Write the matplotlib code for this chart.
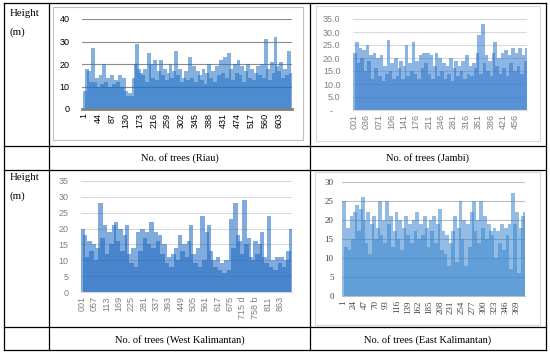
import numpy as np
import matplotlib.pyplot as plt
from matplotlib.lines import Line2D
from matplotlib.patches import Rectangle

# tree heights (m), one value read every few trees along each chart
riau_step = 6
riau_h = [8, 18, 17, 12, 27, 12, 14,
          10, 15, 11, 20, 12, 14, 10, 15, 11, 13,
          12, 15, 10, 14, 8,
          6, 7, 6,
          14, 20, 29, 18, 16,
          15, 18, 12, 25, 20, 14, 22, 13, 17,
          22, 15, 18, 13, 16, 20, 14, 17,
          26, 15, 18, 12, 14, 17, 13,
          23, 14, 19, 12, 17, 15,
          13, 18, 11, 16, 20, 14, 17, 12, 19, 15,
          22, 16, 23, 14, 25, 18, 13, 20, 16, 22,
          15, 19, 12, 17, 20, 14, 18, 13, 16, 19,
          15, 20, 14, 31, 18, 13, 21, 16, 32, 19,
          17, 21, 14, 18, 15, 26, 16]
riau_ticks = [1, 44, 87, 130, 173, 216, 259, 302, 345, 388, 431, 474, 517, 560, 603]

jambi_step = 5
jambi_h = [22, 26, 18, 24, 20, 23, 15, 25, 19, 21,
           12, 22, 16, 20, 13, 21, 11, 17, 14, 27,
           15, 18, 12, 20, 13, 16, 19, 12, 17, 25,
           13, 18, 15, 26, 14, 19, 12, 21, 16, 22,
           18, 22, 14, 21, 12, 17, 22, 13, 20, 15,
           18, 12, 17, 14, 20, 11, 16, 19, 13, 17,
           15, 19, 12, 21, 14, 17, 13, 18, 16, 22,
           29, 14, 33, 18, 21, 15, 19, 13, 22, 26,
           17, 20, 14, 22, 16, 23, 13, 21, 18, 24,
           15, 22, 17, 24, 14, 21, 19, 24]
jambi_ticks = [1, 36, 71, 106, 141, 176, 211, 246, 281, 316, 351, 386, 421, 456]
jambi_labels = ['001', '036', '071', '106', '141', '176', '211', '246', '281',
                '316', '351', '386', '421', '456']

wk_step = 10
wk_h = [20, 18, 11, 16, 13, 15, 10, 14, 28, 17,
        21, 12, 19, 15, 21, 22, 16, 20, 13, 18,
        21, 12, 9, 14, 8, 19, 13, 20, 17, 19,
        15, 22, 14, 19, 16, 18, 12, 15, 9, 11,
        8, 12, 14, 10, 18, 13, 15, 11, 16, 21,
        12, 9, 14, 8, 24, 10, 19, 21, 13, 10,
        8, 11, 7, 9, 6, 10, 7, 23, 14, 28,
        18, 16, 12, 29, 15, 17, 11, 10, 16, 12,
        15, 19, 11, 9, 24, 8, 10, 7, 11, 9,
        11, 8, 10, 13, 20]
wk_ticks = [0, 56, 112, 168, 224, 280, 336, 392, 448, 504, 560, 616, 672, 728, 784, 840, 896]
wk_labels = ['001', '057', '113', '169', '225', '281', '337', '393', '449', '505',
             '561', '617', '675', '715 d', '758 b', '811', '863']

ek_step = 4
ek_h = [25, 13, 18, 12, 21, 15, 22, 24, 17, 23,
        26, 20, 14, 22, 11, 19, 21, 15, 18, 25,
        16, 20, 14, 25, 19, 21, 13, 17, 22, 15,
        20, 12, 18, 21, 16, 19, 14, 20, 17, 22,
        15, 19, 16, 21, 18, 13, 20, 17, 21, 14,
        19, 23, 12, 17, 11, 16, 8, 14, 17, 21,
        9, 18, 25, 15, 20, 8, 19, 13, 22, 25,
        17, 20, 14, 25, 18, 21, 15, 19, 17, 16,
        18, 10, 17, 14, 19, 12, 18, 16, 19, 7,
        27, 19, 22, 6, 18, 21, 22]
ek_ticks = [1, 24, 47, 70, 93, 116, 139, 162, 185, 208, 231, 254, 277, 300, 323, 346, 369]

W, H = 550, 355
fig = plt.figure(figsize=(5.5, 3.55), dpi=100)


def rect(x0, y0, x1, y1):
    return [x0 / W, 1 - y1 / H, (x1 - x0) / W, (y1 - y0) / H]


def line(x0, y0, x1, y1, **kw):
    fig.add_artist(Line2D([x0 / W, x1 / W], [1 - y0 / H, 1 - y1 / H], color='black', lw=0.9, **kw))


def box(x0, y0, x1, y1, color):
    fig.add_artist(Rectangle((x0 / W, 1 - y1 / H), (x1 - x0) / W, (y1 - y0) / H,
                             fill=False, edgecolor=color, lw=0.8))


def chart(pos, start, step, heights, color, ymax, ystep, xlim, ticks, labels,
          font='Liberation Sans', tcolor='#7f7f7f', grid='#d9d9d9', ypad=7, ylabels=None):
    ax = fig.add_axes(rect(*pos))
    x = start + step * np.arange(len(heights)) + step / 2
    # overlapping half-transparent bars: dense base dark, lone spikes light
    ax.bar(x, heights, width=2 * step, color=color, alpha=0.55, linewidth=0)
    ax.set_xlim(*xlim)
    ax.set_ylim(0, ymax)
    yt = np.arange(0, ymax + 0.1, ystep)
    ax.set_yticks(yt)
    ax.set_yticklabels(ylabels if ylabels else [str(int(v)) for v in yt],
                       fontsize=6.5, color=tcolor, family=font)
    ax.set_xticks(ticks)
    ax.set_xticklabels(labels, rotation=90, fontsize=6.5, color=tcolor, family=font)
    ax.tick_params(length=0)
    ax.tick_params(axis='y', pad=ypad)
    ax.tick_params(axis='x', pad=3)
    ax.grid(axis='y', color=grid, lw=0.8)
    ax.set_axisbelow(True)
    for s in ax.spines.values():
        s.set_visible(False)
    ax.spines['bottom'].set_visible(True)
    ax.spines['bottom'].set_color(grid)
    ax.patch.set_alpha(0)
    return ax


# table grid
for y in [3, 146, 170, 327, 350]:
    line(4, y, 546, y)
for x in [4, 49, 310, 546]:
    line(x, 3, x, 350)

box(53, 7, 303, 140, '#bfbfbf')
box(316, 6, 540, 141, '#d9d9d9')
box(315, 172, 540, 325, '#d9d9d9')

serif = 'Liberation Serif'
for y0 in [14, 178]:
    fig.text(10 / W, 1 - y0 / H, 'Height', fontsize=7.8, family=serif, va='center')
    fig.text(10 / W, 1 - (y0 + 18) / H, '(m)', fontsize=7.8, family=serif, va='center')
fig.text(180 / W, 1 - 158 / H, 'No. of trees (Riau)', fontsize=7.5, family=serif, ha='center', va='center')
fig.text(428 / W, 1 - 158 / H, 'No. of trees (Jambi)', fontsize=7.5, family=serif, ha='center', va='center')
fig.text(180 / W, 1 - 340 / H, 'No. of trees (West Kalimantan)', fontsize=7.5, family=serif, ha='center', va='center')
fig.text(428 / W, 1 - 340 / H, 'No. of trees (East Kalimantan)', fontsize=7.5, family=serif, ha='center', va='center')

ax = chart((82, 19, 292, 109), 1, riau_step, riau_h, '#1f6fc4', 40, 10, (-5, 643),
           riau_ticks, [str(t) for t in riau_ticks], tcolor='black', grid='#8c8c8c', ypad=9)
ax.spines['bottom'].set_color('#808080')
ax.spines['bottom'].set_linewidth(2)

chart((353, 19, 527, 110), 1, jambi_step, jambi_h, '#2f78cc', 35, 5, (-2, 488),
      jambi_ticks, jambi_labels, ypad=9,
      ylabels=['-   ', '5.0', '10.0', '15.0', '20.0', '25.0', '30.0', '35.0'])

chart((81, 181, 292, 292), 0, wk_step, wk_h, '#1a66c0', 35, 5, (-3, 950),
      wk_ticks, wk_labels, ypad=9)

chart((342, 182, 525, 296), 1, ek_step, ek_h, '#3a86cf', 30, 5, (-1, 388),
      ek_ticks, [str(t) for t in ek_ticks], font=serif, tcolor='#404040',
      grid='#bfbfbf', ypad=6)

fig.savefig('out.png', dpi=100)
